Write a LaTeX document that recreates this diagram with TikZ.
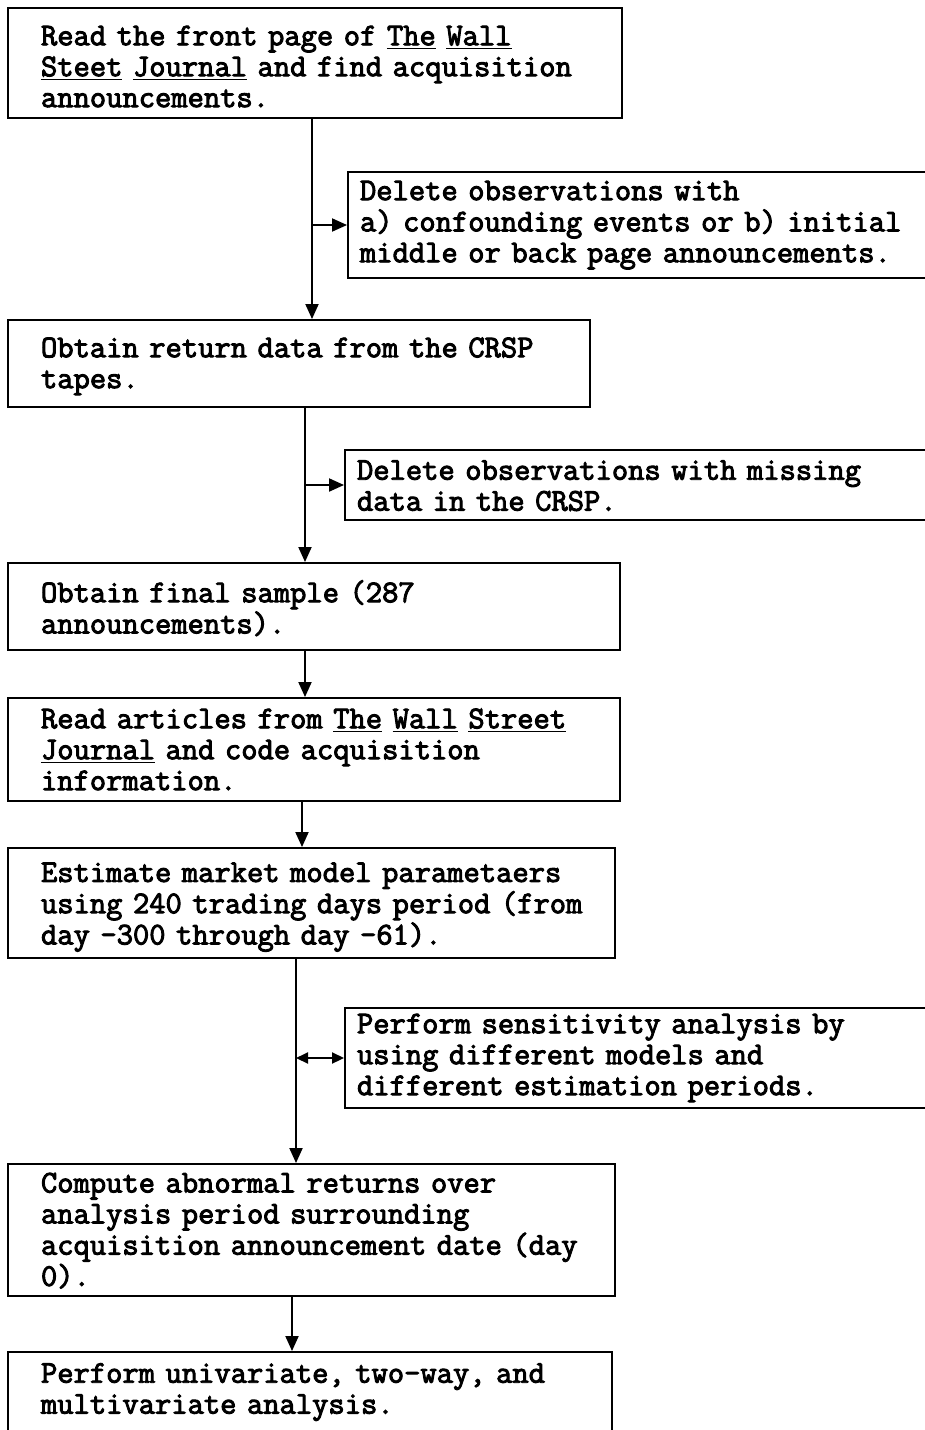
\documentclass[tikz,border=0pt]{standalone}
\usepackage{fontspec}
\newfontfamily\flowfont[FakeBold=3]{Latin Modern Mono}
\newcommand{\flowlines}[2][0pt]{\raisebox{-#1}[\height][\depth]{\begin{tabular}{@{}l@{}}#2\end{tabular}}}
\usetikzlibrary{arrows.meta}

\begin{document}
\begin{tikzpicture}[
		box/.style={draw, line width=1.1pt, align=left, inner xsep=0.66cm, inner ysep=0pt,
			font=\flowfont\fontsize{18}{17.6}\selectfont},
		sidebox/.style={box, inner xsep=0.24cm},
		arr/.style={line width=1.1pt, -{Triangle[width=0.26cm,length=0.3cm]}},
		darr/.style={line width=1.1pt, {Triangle[width=0.22cm,length=0.24cm]}-{Triangle[width=0.22cm,length=0.24cm]}}
	]
		\useasboundingbox (0,0) rectangle (18.5,-28.6);
		
		\node[box, minimum width=12.28cm, minimum height=2.20cm, text width=10.96cm] (read) at (6.30,-1.26)
			{\flowlines[0.14cm]{Read the front page of \underline{The} \underline{Wall}\\ \underline{Steet} \underline{Journal} and find acquisition\\ announcements.}};
		\node[sidebox, minimum width=11.74cm, minimum height=2.12cm, text width=11.26cm] (del1) at (12.83,-4.50)
			{\flowlines{Delete observations with\\ a) confounding events or b) initial\\ middle or back page announcements.}};
		\node[box, minimum width=11.64cm, minimum height=1.74cm, text width=10.32cm] (crsp) at (5.98,-7.27)
			{\flowlines[0.06cm]{Obtain return data from the CRSP\\ tapes.}};
		\node[sidebox, minimum width=11.80cm, minimum height=1.40cm, text width=11.32cm] (del2) at (12.80,-9.70)
			{\flowlines[0.08cm]{Delete observations with missing\\ data in the CRSP.}};
		\node[box, minimum width=12.24cm, minimum height=1.74cm, text width=10.92cm] (sample) at (6.28,-12.13)
			{\flowlines[0.10cm]{Obtain final sample (287\\ announcements).}};
		\node[box, minimum width=12.24cm, minimum height=2.06cm, text width=10.92cm] (articles) at (6.28,-14.99)
			{\flowlines[0.07cm]{Read articles from \underline{The} \underline{Wall} \underline{Street}\\ \underline{Journal} and code acquisition\\ information.}};
		\node[box, minimum width=12.14cm, minimum height=2.20cm, text width=10.82cm] (estimate) at (6.23,-18.06)
			{\flowlines[0.08cm]{Estimate market model parametaers\\ using 240 trading days period (from\\ day -300 through day -61).}};
		\node[sidebox, minimum width=11.80cm, minimum height=2.00cm, text width=11.32cm] (sens) at (12.80,-21.16)
			{\flowlines{Perform sensitivity analysis by\\ using different models and\\ different estimation periods.}};
		\node[box, minimum width=12.14cm, minimum height=2.64cm, text width=10.82cm] (abnormal) at (6.23,-24.60)
			{\flowlines[0.06cm]{Compute abnormal returns over\\ analysis period surrounding\\ acquisition announcement date (day\\ 0).}};
		\node[box, minimum width=12.08cm, minimum height=1.60cm, text width=10.76cm] (analysis) at (6.20,-27.84)
			{\flowlines{Perform univariate, two-way, and\\ multivariate analysis.}};
		
		\draw[arr] ([xshift=-0.06cm]read.south) -- ([xshift=-0.06cm]read.south |- crsp.north);
		\draw[arr] ([xshift=-0.06cm]read.south |- del1.west) -- (del1.west);
		\draw[arr] ([xshift=0.12cm]crsp.south) -- ([xshift=0.12cm]crsp.south |- sample.north);
		\draw[arr] ([xshift=0.12cm]crsp.south |- del2.west) -- (del2.west);
		\draw[arr] ([xshift=-0.18cm]sample.south) -- ([xshift=-0.18cm]sample.south |- articles.north);
		\draw[arr] ([xshift=-0.24cm]articles.south) -- ([xshift=-0.24cm]articles.south |- estimate.north);
		\draw[arr] ([xshift=-0.31cm]estimate.south) -- ([xshift=-0.31cm]estimate.south |- abnormal.north);
		\draw[darr] ([xshift=-0.31cm]estimate.south |- sens.west) -- (sens.west);
		\draw[arr] ([xshift=-0.39cm]abnormal.south) -- ([xshift=-0.39cm]abnormal.south |- analysis.north);
		
	\end{tikzpicture}
\end{document}
